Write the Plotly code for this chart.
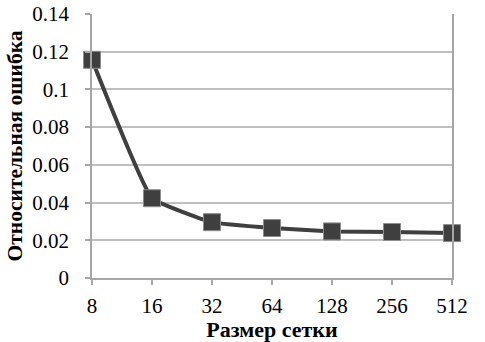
import plotly.graph_objects as go

categories = ["8", "16", "32", "64", "128", "256", "512"]
errors = [0.1157, 0.0423, 0.0296, 0.0265, 0.0247, 0.0244, 0.0238]
y_ticks = [0, 0.02, 0.04, 0.06, 0.08, 0.1, 0.12, 0.14]

serif = "Liberation Serif"

fig = go.Figure()
fig.add_trace(go.Scatter(
    x=categories, y=errors, mode="lines+markers",
    line=dict(color="#3f3f3f", width=4, shape="spline", smoothing=0.3),
    marker=dict(symbol="square", size=17, color="#3f3f3f",
                line=dict(color="#8c8c8c", width=1)),
    cliponaxis=False, showlegend=False,
))

fig.update_layout(
    width=485, height=342,
    margin=dict(l=92, r=33, t=14, b=64, autoexpand=False),
    paper_bgcolor="white", plot_bgcolor="white",
    font=dict(family=serif, color="black", size=20),
)
fig.update_xaxes(
    type="category", range=[0, 6], automargin=False,
    showgrid=False, showline=True, linecolor="#a6a6a6", linewidth=1.5,
    ticks="outside", ticklen=5, tickcolor="#a6a6a6", tickwidth=1.5,
    ticklabelstandoff=3,
    tickfont=dict(family=serif, size=21, color="black"),
    title=dict(text="<b>Размер сетки</b>", font=dict(family=serif, size=22), standoff=0),
    zeroline=False,
)
fig.update_yaxes(
    range=[0, 0.14], tickvals=y_ticks, automargin=False,
    showgrid=True, gridcolor="#bfbfbf", gridwidth=1.5,
    showline=True, linecolor="#a6a6a6", linewidth=1.5, mirror=True,
    ticks="outside", ticklen=5, tickcolor="#a6a6a6", tickwidth=1.5,
    ticklabelstandoff=12,
    tickfont=dict(family=serif, size=21, color="black"),
    title=dict(text="<b>Относительная ошибка</b>", font=dict(family=serif, size=21.5), standoff=4),
    zeroline=False,
)

fig.write_html("out.html", config={"displayModeBar": False},
               post_script="document.body.style.margin='0';document.body.style.overflow='hidden';")
